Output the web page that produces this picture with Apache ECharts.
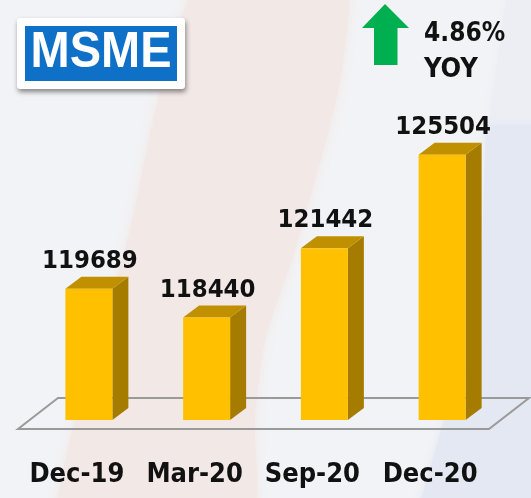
<!DOCTYPE html>
<html>
<head>
<meta charset="UTF-8">
<title>MSME</title>
<style type="text/css">
	* { margin: 0px; padding: 0px; }
	html, body { width: 531px; height: 498px; overflow: hidden; background: #f2f3f6; }
	#container { width: 531px; height: 498px; }
</style>
<script src="https://cdn.jsdelivr.net/npm/echarts@6/dist/echarts.min.js"></script>
</head>
<body>
<div id="container"></div>
<script>
	var categories = ['Dec-19', 'Mar-20', 'Sep-20', 'Dec-20'];
	var values = [119689, 118440, 121442, 125504];
	var badgeText = 'MSME';
	var growthText = '4.86%';
	var growthNote = 'YOY';

	var labelFont = '"DejaVu Sans Condensed", "DejaVu Sans", sans-serif';
	var barWidth = 47;
	var depthX = 16;
	var depthY = 12;

	// 3d look: front, side and top faces from the axis scale
	function renderBar(params, api) {
		var top = api.coord([api.value(0), api.value(1)]);
		var bottom = api.coord([api.value(0), 114000]);
		var l = top[0] - barWidth / 2;
		var r = l + barWidth;
		var t = top[1];
		var b = bottom[1];
		return {
			type: 'group',
			children: [{
				type: 'polygon',
				shape: { points: [[r, t], [r + depthX, t - depthY], [r + depthX, b - depthY], [r, b]] },
				style: { fill: '#a67c00' }
			}, {
				type: 'polygon',
				shape: { points: [[l, t], [l + depthX, t - depthY], [r + depthX, t - depthY], [r, t]] },
				style: { fill: '#c09000' }
			}, {
				type: 'rect',
				shape: { x: l, y: t, width: barWidth, height: b - t },
				style: { fill: '#ffc000' }
			}, {
				type: 'text',
				style: {
					text: String(api.value(1)),
					x: top[0] + 1,
					y: t - depthY - 15.5,
					align: 'center',
					verticalAlign: 'middle',
					font: 'bold 25.5px ' + labelFont,
					fill: '#111111'
				}
			}]
		};
	}

	var seriesData = [];
	for (var i = 0; i < categories.length; i++) {
		seriesData.push([i, values[i]]);
	}

	var myChart = echarts.init(document.getElementById('container'));
	myChart.setOption({
		animation: false,
		backgroundColor: '#f2f3f6',
		grid: { left: 30, top: 51, width: 471, height: 369 },
		xAxis: {
			type: 'category',
			data: categories,
			axisLine: { show: false },
			axisTick: { show: false },
			axisLabel: {
				margin: 41,
				padding: [0, 24, 0, 0],
				interval: 0,
				fontFamily: labelFont,
				fontWeight: 'bold',
				fontSize: 27,
				color: '#111111'
			}
		},
		yAxis: { type: 'value', min: 114000, max: 130000, show: false },
		graphic: [
			// faint background shapes, blurred edges
			{ type: 'polygon', z: -10, shape: { smooth: 0.2, points: [[205, -30], [345, -30], [342, 70], [328, 133], [295, 250], [265, 340], [255, 420], [250, 530], [60, 530], [70, 440], [130, 230], [158, 100]] }, style: { fill: '#f2e8e6', shadowBlur: 12, shadowColor: '#f2e8e6' } },
			{ type: 'polygon', z: -10, shape: { points: [[510, -30], [560, -30], [560, 140], [486, 140]] }, style: { fill: '#eceef4', shadowBlur: 10, shadowColor: '#eceef4' } },
			{ type: 'polygon', z: -9, shape: { points: [[486, 125], [560, 125], [560, 530], [412, 530], [450, 400], [482, 340], [482, 250]] }, style: { fill: '#e4e8f2', shadowBlur: 10, shadowColor: '#e4e8f2' } },
			// floor
			{ type: 'polygon', z: 0, shape: { points: [[18, 429], [58, 398], [529, 398], [489, 429]] }, style: { fill: 'transparent', stroke: '#9a9a9a', lineWidth: 2 } },
			// badge
			{ type: 'rect', z: 10, shape: { x: 17, y: 18, width: 168, height: 71, r: 3 }, style: { fill: '#ffffff', shadowBlur: 5, shadowOffsetX: 1, shadowOffsetY: 3, shadowColor: 'rgba(0,0,0,0.45)' } },
			{ type: 'rect', z: 11, shape: { x: 25, y: 26, width: 152, height: 55 }, style: { fill: '#0f70c8' } },
			{ type: 'text', z: 12, x: 101, y: 53.5, scaleY: 1.07, style: { text: badgeText, x: 0, y: 0, align: 'center', verticalAlign: 'middle', font: 'bold 47px "Liberation Sans", Arial, sans-serif', fill: '#ffffff' } },
			// growth arrow
			{ type: 'polygon', z: 10, shape: { points: [[385, 4], [409, 28], [397.5, 28], [397.5, 65], [374, 65], [374, 28], [362, 28]] }, style: { fill: '#00b050' } },
			{ type: 'text', z: 10, style: { text: growthText, x: 424, y: 34, align: 'left', verticalAlign: 'middle', font: 'bold 26px ' + labelFont, fill: '#111111' } },
			{ type: 'text', z: 10, style: { text: growthNote, x: 424, y: 70, align: 'left', verticalAlign: 'middle', font: 'bold 27px ' + labelFont, fill: '#111111' } }
		],
		series: [{
			type: 'custom',
			z: 5,
			renderItem: renderBar,
			encode: { x: 0, y: 1 },
			data: seriesData
		}]
	});
</script>
</body>
</html>
